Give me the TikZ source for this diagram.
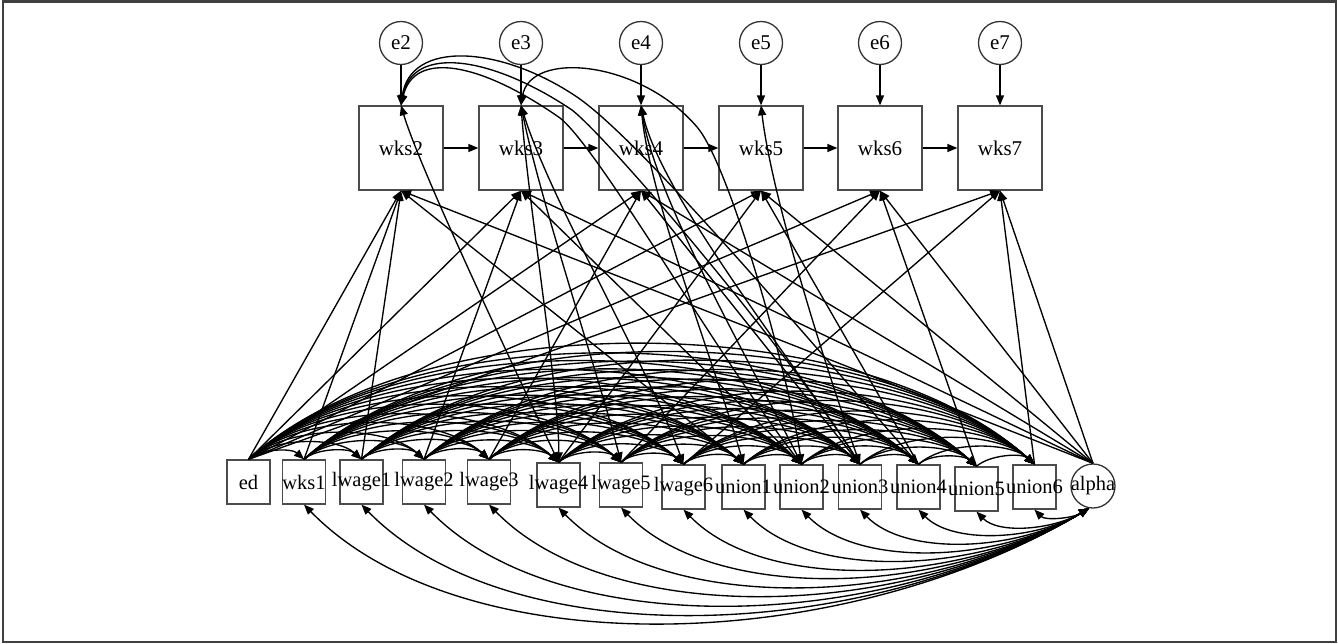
\documentclass[tikz,border=0pt]{standalone}
\usepackage{fontspec}
\setmainfont{Liberation Serif}
\usetikzlibrary{arrows.meta}
\begin{document}
\begin{tikzpicture}[x=1pt,y=-1pt,
  sbox/.style={draw=black!70,line width=1.3pt,minimum width=43pt,minimum height=44pt,inner sep=0pt,font=\fontsize{20.5}{20}\selectfont},
  bbox/.style={draw=black!70,line width=1.3pt,minimum width=84pt,minimum height=84pt,inner sep=0pt,font=\fontsize{21}{21}\selectfont},
  ecirc/.style={circle,draw=black!80,line width=1.3pt,minimum size=43pt,inner sep=0pt,font=\fontsize{21}{21}\selectfont},
  arr/.style={line width=1.35pt,-{Triangle[length=10pt,width=8pt]}},
  darr/.style={line width=1.35pt,{Triangle[length=10pt,width=8pt]}-{Triangle[length=10pt,width=8pt]}}]
\useasboundingbox (0,0) rectangle (1338,644);
\draw[black!75,line width=2.5pt] (3,1.5) rectangle (1336,642);
% top row
\foreach \t/\x in {2/401,3/521,4/641,5/761,6/880,7/1000}{
  \node[ecirc] (e\t) at (\x,43) {e\t};
  \node[bbox] (wks\t) at (\x,148) {wks\t};
  \draw[arr] (e\t) -- (wks\t);
}
\foreach \p/\t in {2/3,3/4,4/5,5/6,6/7}{\draw[arr] (wks\p) -- (wks\t);}
% bottom row
\def\exlist{ed/248.5/482,wks1/304/482,lwage1/361.5/482,lwage2/424/482,lwage3/489/482,lwage4/558.5/485,lwage5/621/485,lwage6/683.5/487,union1/743.5/487,union2/801.5/487,union3/860/487,union4/918.5/487,union5/976.5/489,union6/1034.5/487}
\foreach \n/\x/\y in \exlist{\node[sbox] (\n) at (\x,\y) {\makebox[0pt]{\n}};}
\node[circle,draw=black!80,line width=1.3pt,minimum size=44pt,inner sep=0pt,font=\fontsize{20.5}{20}\selectfont] (alpha) at (1093,486) {\makebox[0pt]{alpha}};
% covariances among exogenous variables
\foreach \a/\xa/\ya [count=\i] in \exlist{
  \foreach \b/\xb/\yb [count=\j] in \exlist{
    \ifnum\j>\i
      \pgfmathsetmacro\dd{\xb-\xa}
      \draw[arr] (\a.north) .. controls +(0.22*\dd,-0.2*\dd) and +(-0.22*\dd,-0.2*\dd) .. (\b.north);
    \fi
  }
}
% alpha covariances below
\foreach \b/\xb in {wks1/304,lwage1/361.5,lwage2/424,lwage3/489,lwage4/558.5,lwage5/621,lwage6/683.5,union1/743.5,union2/801.5,union3/860,union4/918.5,union5/976.5,union6/1034.5}{
  \pgfmathsetmacro\dd{1088-\xb}
  \draw[darr] (\b.south) .. controls +(0.2*\dd,0.205*\dd) and +(-0.32*\dd,0.19*\dd) .. (alpha.260);
}
% regressions
\foreach \t in {2,...,7}{
  \draw[arr] (ed.north) -- (wks\t.south);
  \draw[arr] (alpha.north) -- (wks\t.south);
}
\draw[arr] (wks1.north) -- (wks2.south);
\foreach \s/\t in {1/2,2/3,3/4,4/5,5/6,6/7}{
  \draw[arr] (lwage\s.north) -- (wks\t.south);
  \draw[arr] (union\s.north) -- (wks\t.south);
}
% error covariances
\draw[darr] (wks2.north) .. controls (410,40) and (500,45) .. (577,97) .. controls (640,140) and (800,330) .. (union4.north);
\draw[darr] (wks2.north) .. controls (412,45) and (490,55) .. (572,110) .. controls (610,140) and (780,340) .. (union3.north);
\draw[darr] (wks2.north) .. controls (414,50) and (480,62) .. (560,118) .. controls (600,150) and (720,360) .. (union2.north);
\draw[darr] (wks2.north) .. controls (420,170) and (520,380) .. (lwage4.north);
\draw[darr] (wks3.north) .. controls (530,50) and (640,60) .. (697,127) .. controls (730,165) and (790,380) .. (union2.north);
\draw[darr] (wks3.north) .. controls (528,200) and (560,400) .. (lwage4.north);
\draw[darr] (wks3.north) .. controls (540,200) and (600,380) .. (lwage5.north);
\draw[darr] (wks3.north) .. controls (550,200) and (650,370) .. (lwage6.north);
\draw[darr] (wks4.north) .. controls (650,200) and (720,380) .. (union1.north);
\draw[darr] (wks4.north) .. controls (655,200) and (760,380) .. (union2.north);
\draw[darr] (wks4.north) .. controls (660,195) and (800,370) .. (union3.north);
\draw[darr] (wks5.north) .. controls (772,200) and (830,380) .. (union3.north);
\end{tikzpicture}
\end{document}
